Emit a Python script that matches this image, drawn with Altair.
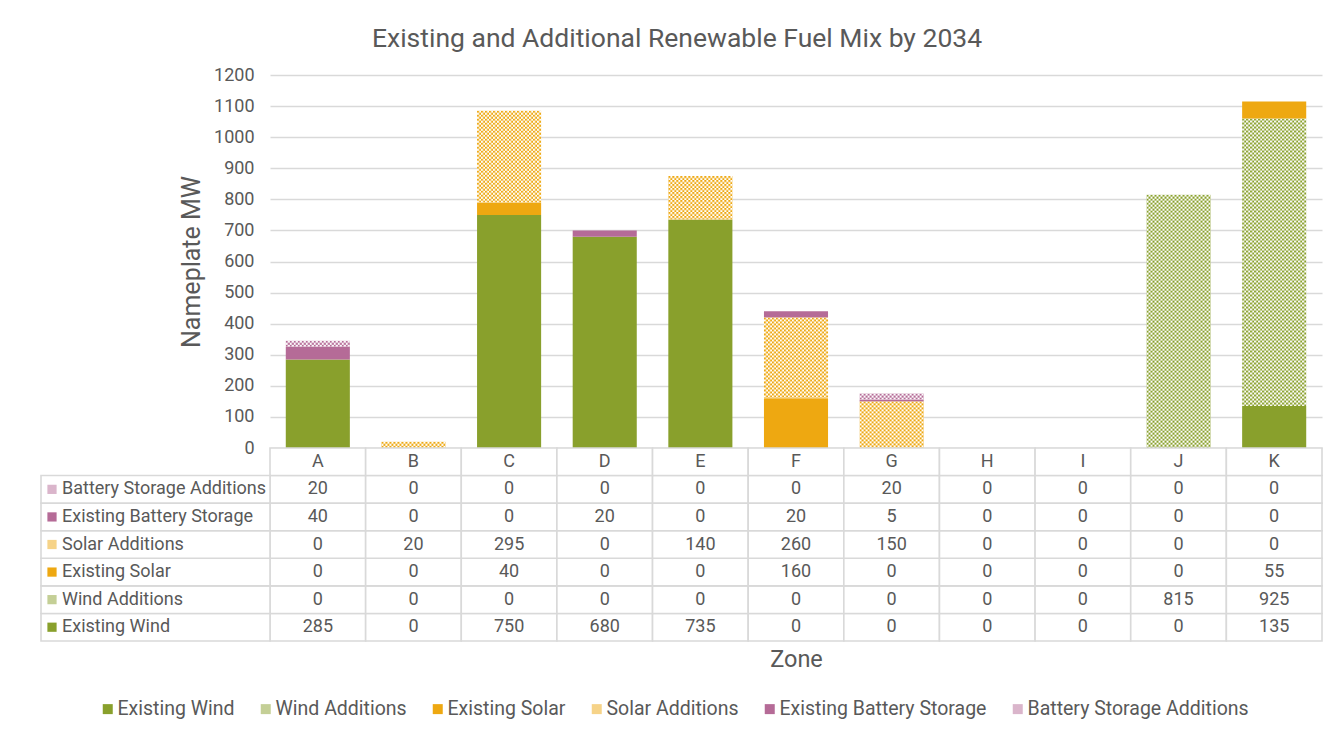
import base64
import altair as alt
import pandas as pd

# ---------------- data ----------------
zones = ["A", "B", "C", "D", "E", "F", "G", "H", "I", "J", "K"]
series = [
    "Existing Wind",
    "Wind Additions",
    "Existing Solar",
    "Solar Additions",
    "Existing Battery Storage",
    "Battery Storage Additions",
]
existing_wind = [285, 0, 750, 680, 735, 0, 0, 0, 0, 0, 135]
wind_additions = [0, 0, 0, 0, 0, 0, 0, 0, 0, 815, 925]
existing_solar = [0, 0, 40, 0, 0, 160, 0, 0, 0, 0, 55]
solar_additions = [0, 20, 295, 0, 140, 260, 150, 0, 0, 0, 0]
existing_battery = [40, 0, 0, 20, 0, 20, 5, 0, 0, 0, 0]
battery_additions = [20, 0, 0, 0, 0, 0, 20, 0, 0, 0, 0]
y_ticks = [0, 100, 200, 300, 400, 500, 600, 700, 800, 900, 1000, 1100, 1200]

values = [existing_wind, wind_additions, existing_solar,
          solar_additions, existing_battery, battery_additions]

# ---------------- styles ----------------
FONT = "Roboto"
TXT = "#595959"
GRID = "#D9D9D9"
solid = {"Existing Wind": "#89A02C", "Existing Solar": "#EEA811",
         "Existing Battery Storage": "#B56B97"}
pattern_base = {"Wind Additions": "#89A02C", "Solar Additions": "#EEA811",
                "Battery Storage Additions": "#B56B97"}
tints = {"Wind Additions": "#C4CF96", "Solar Additions": "#F6D388",
         "Battery Storage Additions": "#DAB5CB"}
palette = [solid.get(s, tints.get(s)) for s in series]


def checker(color):
    svg = (
        '<svg xmlns="http://www.w3.org/2000/svg" width="100%" height="100%">'
        '<defs><pattern id="p" width="4" height="4" patternUnits="userSpaceOnUse">'
        '<rect width="4" height="4" fill="#ffffff"/>'
        f'<rect width="2" height="2" fill="{color}"/>'
        f'<rect x="2" y="2" width="2" height="2" fill="{color}"/>'
        '</pattern></defs><rect width="100%" height="100%" fill="url(#p)"/></svg>'
    )
    return "data:image/svg+xml;base64," + base64.b64encode(svg.encode()).decode()


rows = []
for i, s in enumerate(series):
    for z, v in zip(zones, values[i]):
        rows.append({
            "zone": z, "series": s, "value": v, "order": i,
            "url": checker(pattern_base[s]) if s in pattern_base else "",
        })
df = pd.DataFrame(rows)
hdr = pd.DataFrame({"zone": zones, "series": ["_hdr"] * len(zones), "label": zones})
row_order = ["_hdr"] + series[::-1]
heads = pd.DataFrame({"series": series})

color_scale = alt.Scale(domain=series, range=palette)
legend = alt.Legend(
    title=None, orient="none", direction="horizontal", legendX=-172, legendY=624,
    symbolType="square", symbolSize=100, symbolStrokeWidth=0, labelFontSize=19.5,
    labelFont=FONT, labelColor=TXT, columnPadding=21, labelOffset=0, labelLimit=0,
    columns=6,
)

# ---------------- bar chart ----------------
x_bar = alt.X("zone:N", sort=zones, axis=None,
              scale=alt.Scale(domain=zones, paddingInner=0.33, paddingOuter=0.165))
y_axis = alt.Axis(values=y_ticks, tickCount=13, format="d", labelOverlap=False,
                  title="Nameplate MW", grid=True, gridColor=GRID,
                  gridWidth=1.3, domain=False, ticks=False, labelPadding=16,
                  labelFontSize=18, labelColor=TXT, titleFontSize=25,
                  titleColor=TXT, titleFontWeight="normal", titlePadding=9)
y_bar = alt.Y("y1:Q", scale=alt.Scale(domain=[0, 1200], nice=False), axis=y_axis)

stacked = alt.Chart(df).transform_stack(
    stack="value", groupby=["zone"], as_=["y0", "y1"],
    sort=[alt.SortField("order", "ascending")],
).transform_filter("datum.value > 0")

bars = stacked.mark_bar().encode(
    x=x_bar, y=y_bar, y2="y0:Q",
    color=alt.Color("series:N", scale=color_scale, legend=legend),
)
patterns = stacked.transform_filter("datum.url != ''").mark_image(aspect=False).encode(
    x=x_bar, y=y_bar, y2="y0:Q", url="url:N"
)

top = alt.layer(bars, patterns).properties(
    width=1052, height=373,
    title=alt.Title("Existing and Additional Renewable Fuel Mix by 2034",
                    fontSize=26.5, font=FONT, color=TXT, fontWeight="normal",
                    anchor="middle", dx=-119, offset=14),
)

# ---------------- data table ----------------
x_tab = alt.X("zone:N", sort=zones,
              scale=alt.Scale(domain=zones, paddingInner=0, paddingOuter=0),
              axis=alt.Axis(title="Zone", labels=False, ticks=False, domain=False,
                            titleFontSize=23.5, titleColor=TXT, titleFontWeight="normal",
                            titleFont=FONT, titlePadding=6))
y_tab = alt.Y("series:N", sort=row_order, axis=None,
              scale=alt.Scale(domain=row_order, paddingInner=0, paddingOuter=0))

cells_df = pd.concat([df[["zone", "series"]], hdr[["zone", "series"]]])
cells = alt.Chart(cells_df).mark_rect(fill="white", stroke=GRID, strokeWidth=1.6).encode(
    x=x_tab, y=y_tab)
nums = alt.Chart(df).mark_text(fontSize=18, font=FONT, color=TXT).encode(
    x=x_tab, y=y_tab, text="value:Q")
hdr_txt = alt.Chart(hdr).mark_text(fontSize=18, font=FONT, color=TXT).encode(
    x=x_tab, y=y_tab, text="label:N")
head_cells = alt.Chart(heads).mark_rect(fill="white", stroke=GRID, strokeWidth=1.6).encode(
    x=alt.value(-229), x2=alt.value(0), y=y_tab)
head_txt = alt.Chart(heads).mark_text(fontSize=18, font=FONT, color=TXT, align="left").encode(
    x=alt.value(-208), y=y_tab, text="series:N")
head_sym = alt.Chart(heads).mark_square(size=85, opacity=1).encode(
    x=alt.value(-218), y=y_tab,
    color=alt.Color("series:N", scale=color_scale, legend=legend))

table = alt.layer(cells, nums, hdr_txt, head_cells, head_txt, head_sym).properties(
    width=1052, height=193)

chart = alt.vconcat(top, table, spacing=0, bounds="flush").properties(
    padding={"left": 32, "top": 17, "right": 2, "bottom": 0},
).configure_view(stroke=None).configure_axis(
    labelFont=FONT, titleFont=FONT
).configure_legend(padding=0)

chart.save("out.html", embed_options={"renderer": "svg", "actions": False})
